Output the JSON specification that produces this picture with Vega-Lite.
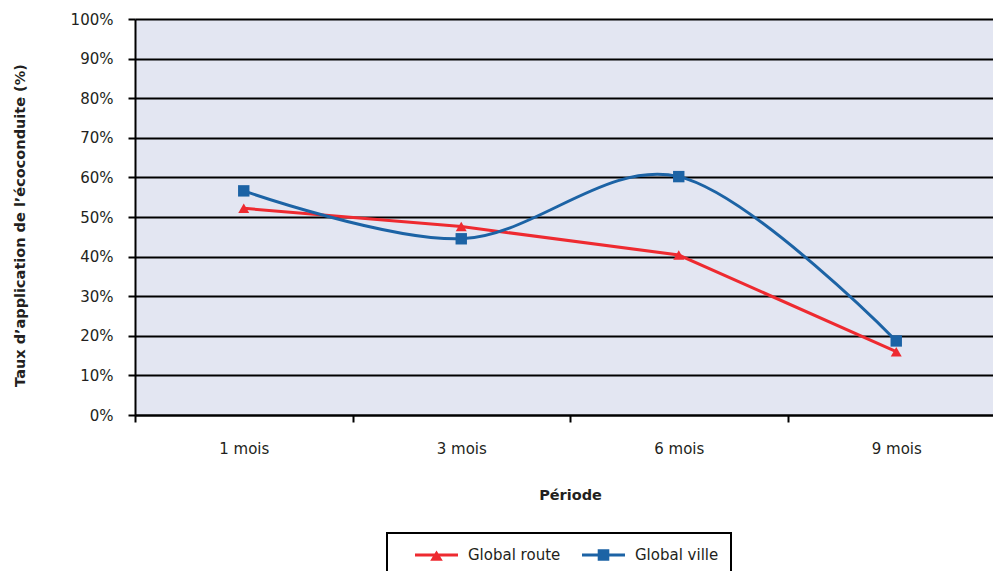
{
  "$schema": "https://vega.github.io/schema/vega-lite/v6.json",
  "width": 870,
  "height": 396,
  "autosize": {"type": "none"},
  "padding": {"left": 135, "top": 19, "right": -12, "bottom": 156},
  "background": "white",
  "config": {
    "view": {"fill": "#E3E6F2", "stroke": null},
    "font": "DejaVu Sans",
    "axis": {
      "labelFont": "DejaVu Sans",
      "labelFontSize": 15,
      "labelColor": "#231F20",
      "titleFont": "DejaVu Sans",
      "titleFontSize": 14.5,
      "titleFontWeight": "bold",
      "titleColor": "#231F20",
      "domainColor": "black",
      "domainWidth": 2,
      "tickColor": "black",
      "tickWidth": 2,
      "tickSize": 7
    },
    "legend": {
      "orient": "none",
      "legendX": 252,
      "legendY": 514,
      "direction": "horizontal",
      "strokeColor": "black",
      "strokeWidth": 2,
      "fillColor": "white",
      "padding": 12,
      "symbolSize": 400,
      "symbolOffset": 27.5,
      "symbolOpacity": 1,
      "symbolStrokeWidth": 0,
      "labelFont": "DejaVu Sans",
      "labelFontSize": 15,
      "labelColor": "#231F20",
      "labelOffset": 21.5,
      "columnPadding": 5
    }
  },
  "data": {
    "values": [
      {"periode": "1 mois", "serie": "Global route", "taux": 52.2},
      {"periode": "3 mois", "serie": "Global route", "taux": 47.6},
      {"periode": "6 mois", "serie": "Global route", "taux": 40.4},
      {"periode": "9 mois", "serie": "Global route", "taux": 16.0},
      {"periode": "1 mois", "serie": "Global ville", "taux": 56.6},
      {"periode": "3 mois", "serie": "Global ville", "taux": 44.5},
      {"periode": "6 mois", "serie": "Global ville", "taux": 60.2},
      {"periode": "9 mois", "serie": "Global ville", "taux": 18.7}
    ]
  },
  "encoding": {
    "x": {
      "field": "periode",
      "type": "ordinal",
      "sort": ["1 mois", "3 mois", "6 mois", "9 mois"],
      "scale": {"paddingInner": 0, "paddingOuter": 0},
      "axis": {
        "title": "Période",
        "labelAngle": 0,
        "tickBand": "extent",
        "labelPadding": 19,
        "titlePadding": 32,
        "grid": false
      }
    },
    "y": {
      "field": "taux",
      "type": "quantitative",
      "scale": {"domain": [0, 100], "nice": false},
      "axis": {
        "title": "Taux d’application de l’écoconduite (%)",
        "values": [0, 10, 20, 30, 40, 50, 60, 70, 80, 90, 100],
        "labelExpr": "datum.value + '%'",
        "grid": true,
        "gridColor": "black",
        "gridWidth": 2,
        "gridOpacity": 1,
        "labelPadding": 15,
        "titlePadding": 43,
        "titleY": 206
      }
    }
  },
  "layer": [
    {
      "transform": [{"filter": "datum.serie === 'Global route'"}],
      "mark": {"type": "line", "color": "#EE2A30", "strokeWidth": 3}
    },
    {
      "transform": [{"filter": "datum.serie === 'Global ville'"}],
      "mark": {"type": "line", "color": "#1C63A5", "strokeWidth": 3, "interpolate": "cardinal"}
    },
    {
      "transform": [{"filter": "datum.serie === 'Global route'"}],
      "mark": {"type": "point", "shape": "triangle-up", "filled": true, "size": 120, "color": "#EE2A30", "opacity": 1}
    },
    {
      "transform": [{"filter": "datum.serie === 'Global ville'"}],
      "mark": {"type": "point", "shape": "square", "filled": true, "size": 130, "color": "#1C63A5", "opacity": 1}
    },
    {
      "mark": {"type": "point", "filled": true, "opacity": 0},
      "encoding": {
        "color": {
          "field": "serie",
          "type": "nominal",
          "scale": {"domain": ["Global route", "Global ville"], "range": ["#EE2A30", "#1C63A5"]},
          "legend": {"title": null}
        },
        "shape": {
          "field": "serie",
          "type": "nominal",
          "scale": {
            "domain": ["Global route", "Global ville"],
            "range": [
              "M-2.15,-0.15L2.15,-0.15L2.15,0.15L-2.15,0.15Z M0,-0.45L0.63,0.57L-0.63,0.57Z",
              "M-2.15,-0.15L2.15,-0.15L2.15,0.15L-2.15,0.15Z M-0.58,-0.58L0.58,-0.58L0.58,0.58L-0.58,0.58Z"
            ]
          },
          "legend": {"title": null}
        }
      }
    }
  ]
}
